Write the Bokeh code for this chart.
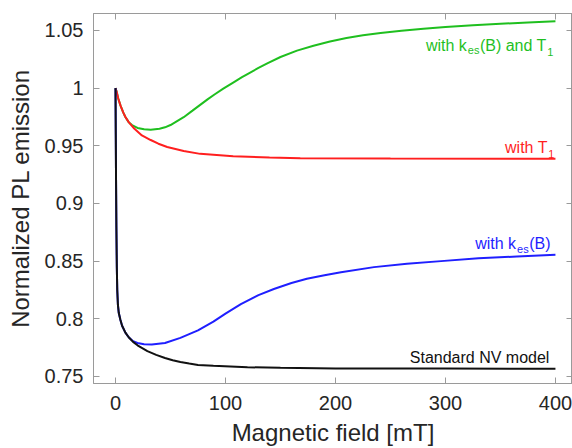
from bokeh.plotting import figure
from bokeh.models import (LinearAxis, FixedTicker, CustomJSTickFormatter, Label, Range1d,
                          CustomLabelingPolicy)
from bokeh.embed import file_html
from bokeh.resources import INLINE

# ---------------- data ----------------
field_std = [0, 0.25, 0.5, 0.8, 1.2, 1.6, 2.2, 3, 4.5, 6, 9, 12, 16, 20, 29, 37, 45, 52, 59, 67, 75, 89,
             120, 150, 200, 300, 400]
pl_std = [1.0, 0.96, 0.92, 0.88, 0.845, 0.825, 0.812, 0.805, 0.799, 0.794, 0.788, 0.784, 0.780, 0.777,
          0.772, 0.7687, 0.766, 0.764, 0.7625, 0.7612, 0.760, 0.7592, 0.758, 0.7575, 0.757, 0.7568, 0.7566]

field_kes = [0, 0.25, 0.5, 0.8, 1.2, 1.6, 2.2, 3, 4.5, 6, 9, 12, 16, 20, 26, 33, 45, 59, 75, 89, 100, 114,
             130, 144, 160, 174, 190, 205, 235, 265, 296, 330, 365, 400]
pl_kes = [1.0, 0.96, 0.92, 0.88, 0.845, 0.825, 0.812, 0.805, 0.799, 0.794, 0.788, 0.784, 0.7805, 0.779,
          0.778, 0.7778, 0.779, 0.7835, 0.790, 0.7975, 0.8045, 0.8128, 0.8205, 0.8258, 0.831, 0.8347,
          0.8378, 0.8404, 0.8448, 0.8477, 0.850, 0.8525, 0.854, 0.8555]

field_t1 = [0, 1, 2.5, 4.5, 7, 9, 12, 17, 24, 32, 39, 47, 62, 77, 107, 140, 168, 250, 400]
pl_t1 = [1.0, 0.997, 0.991, 0.985, 0.979, 0.975, 0.9705, 0.965, 0.959, 0.955, 0.9518, 0.949, 0.9455,
         0.943, 0.941, 0.9398, 0.9393, 0.939, 0.9388]

field_both = [0, 1, 2.5, 4.5, 7, 9, 12, 15, 20, 26, 32, 40, 45, 50, 62, 70, 77, 84, 90, 98, 107, 115, 120,
              130, 138, 150, 165, 180, 195, 210, 225, 241, 260, 280, 300, 325, 350, 375, 400]
pl_both = [1.0, 0.997, 0.991, 0.985, 0.979, 0.975, 0.9705, 0.968, 0.9655, 0.9643, 0.964, 0.9648, 0.966,
           0.968, 0.9748, 0.9805, 0.9855, 0.9905, 0.9945, 0.9995, 1.0048, 1.0095, 1.0122, 1.0175, 1.0215,
           1.027, 1.0325, 1.0368, 1.0405, 1.0435, 1.0458, 1.0478, 1.0498, 1.0515, 1.053, 1.0545, 1.0558,
           1.057, 1.058]

x_ticks = [0, 100, 200, 300, 400]
y_ticks = [0.75, 0.8, 0.85, 0.9, 0.95, 1.0, 1.05]

FONT = "Liberation Sans"
TXT = "#262626"
BOX = "#9a9a9a"
GREEN = "#1fbf1f"
RED = "#ff1f1f"
BLUE = "#1f1fff"
BLACK = "#111111"

p = figure(width=572, height=448, output_backend="svg", toolbar_location=None,
           x_range=Range1d(-20, 415.5), y_range=Range1d(0.7439, 1.0647),
           min_border_left=93, min_border_right=0, min_border_top=13, min_border_bottom=65)
p.background_fill_color = "white"
p.border_fill_color = "white"
p.outline_line_color = BOX
p.xgrid.visible = False
p.ygrid.visible = False

fmt = CustomJSTickFormatter(code="return String(Number(tick.toFixed(2)));")

for ax, ticks in ((p.xaxis[0], x_ticks), (p.yaxis[0], y_ticks)):
    ax.ticker = FixedTicker(ticks=ticks)
    ax.formatter = fmt
    ax.major_tick_in = 6
    ax.major_tick_out = 0
    ax.minor_tick_line_color = None
    ax.axis_line_color = BOX
    ax.major_tick_line_color = BOX
    ax.major_label_text_font = FONT
    ax.major_label_text_font_size = "20px"
    ax.major_label_text_color = TXT
    ax.axis_label_text_font = FONT
    ax.axis_label_text_font_size = "24px"
    ax.axis_label_text_font_style = "normal"
    ax.axis_label_text_color = TXT

p.xaxis.axis_label = "Magnetic field [mT]"
p.yaxis.axis_label = "Normalized PL emission"
p.xaxis.major_label_standoff = 12
p.yaxis.major_label_standoff = 10
p.xaxis.axis_label_standoff = 6
p.yaxis.axis_label_standoff = 8

hide_all = CustomLabelingPolicy(code="""
    const ids = [...indices]
    for (const i of ids) indices.unset(i)
    return indices
""")

for loc, ticks in (("above", x_ticks), ("right", y_ticks)):
    ax = LinearAxis(ticker=FixedTicker(ticks=ticks), major_label_policy=hide_all,
                    major_label_text_font_size="0px",
                    major_tick_in=6, major_tick_out=0, minor_tick_line_color=None,
                    axis_line_color=BOX, major_tick_line_color=BOX, major_label_standoff=0)
    p.add_layout(ax, loc)

p.line(field_both, pl_both, line_width=2, color=GREEN)
p.line(field_t1, pl_t1, line_width=2, color=RED)
p.line(field_kes, pl_kes, line_width=2, color=BLUE)
p.line(field_std, pl_std, line_width=2, color=BLACK)

# ---------------- annotations with sub-scripts ----------------
W = {"w": 722, "i": 222, "t": 278, "h": 556, " ": 278, "k": 500, "e": 556, "s": 500, "(": 333, "B": 667,
     ")": 333, "a": 556, "n": 556, "d": 556, "T": 611, "1": 556, "S": 667, "r": 333, "N": 722, "V": 667,
     "m": 833, "o": 556, "l": 222}


def width(s, size):
    return sum(W[c] for c in s) * size / 1000.0


def add_label(pieces, x, y, color):
    total = sum(width(t, sz) + gap for t, sz, dy, gap in pieces)
    off = -total
    for t, sz, dy, gap in pieces:
        p.add_layout(Label(x=x, y=y, x_offset=off, y_offset=-dy, text=t, text_font=FONT,
                           text_font_size=f"{sz}px", text_color=color, text_align="left",
                           text_baseline="alphabetic"))
        off += width(t, sz) + gap


add_label([("with k", 16, 0, 1), ("es", 11, 5, 0.5), ("(B) and T", 16, 0, 0.5), ("1", 11, 7, 0)],
          398, 1.037, GREEN)
add_label([("with T", 16, 0, 0.5), ("1", 11, 7, 0)], 399, 0.9488, RED)
add_label([("with k", 16, 0, 1), ("es", 11, 5, 0.5), ("(B)", 16, 0, 0)], 395.5, 0.8651, BLUE)
add_label([("Standard NV model", 16, 0, 0)], 394.5, 0.7667, BLACK)

open("out.html", "w").write(file_html(p, INLINE))
